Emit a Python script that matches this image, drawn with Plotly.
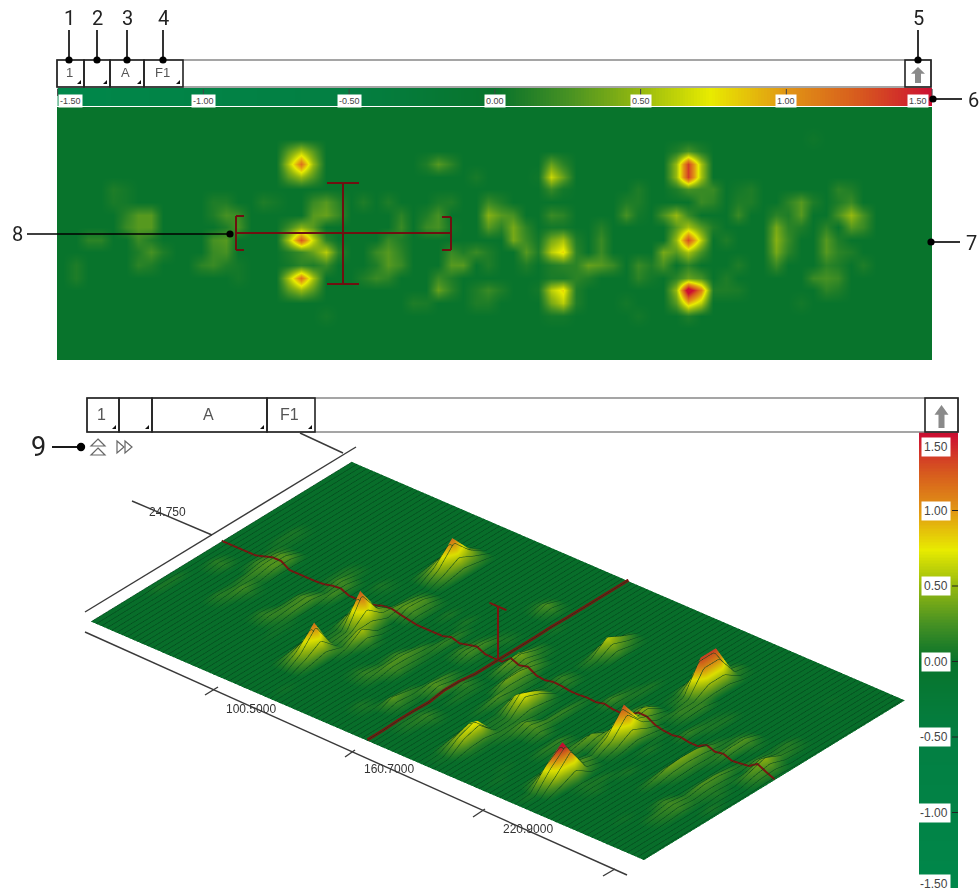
import numpy as np
import plotly.graph_objects as go

# ---------- data ----------
N_COLS, N_ROWS = 70, 20
row_00 = {}
row_01 = {}
row_02 = {60: .03}
row_03 = {18: .3, 19: .55, 20: .3, 49: .1, 50: .25, 51: .1}
row_04 = {18: .55, 19: 1.15, 20: .5, 29: .1, 30: .3, 31: .15, 39: .35, 40: .15, 49: .5, 50: 1.35, 51: .55}
row_05 = {18: .3, 19: .5, 20: .28, 33: .07, 38: .03, 39: .65, 40: .35, 49: .5, 50: 1.35, 51: .55}
row_06 = {4: .1, 5: .05, 39: .2, 40: .05, 46: .1, 49: .1, 50: .25, 51: .2, 52: .2, 54: .05, 55: .1, 62: .15, 63: .1}
row_07 = {4: .08, 5: .05, 12: .1, 13: .1, 16: .1, 17: .05, 20: .2, 21: .3, 22: .15, 24: .1, 26: .1, 30: .08, 31: .1,
          34: .2, 35: .1, 45: .1, 46: .1, 51: .2, 52: .15, 54: .1, 55: .1, 58: .15, 59: .3, 60: .1, 62: .1, 63: .2}
row_08 = {5: .15, 6: .3, 7: .3, 12: .1, 13: .25, 14: .2, 20: .3, 21: .35, 22: .2, 27: .15, 29: .1, 30: .25, 34: .45,
          35: .3, 36: .25, 39: .2, 40: .15, 45: .25, 46: .05, 48: .25, 49: .5, 50: .2, 54: .2, 57: .15, 58: .1, 59: .3,
          62: .25, 63: .5, 64: .25}
row_09 = {5: .2, 6: .3, 7: .3, 13: .1, 14: .25, 18: .2, 19: .45, 20: .3, 27: .2, 29: .2, 30: .25, 31: .05, 34: .3,
          35: .15, 36: .4, 37: .15, 39: .05, 40: .05, 43: .12, 49: .3, 50: .55, 51: .3, 52: .1, 57: .4, 58: .15, 59: .1,
          61: .15, 63: .3, 64: .2}
row_10 = {2: .15, 3: .15, 6: .2, 7: .1, 12: .25, 13: .3, 18: .55, 19: 1.25, 20: .65, 21: .15, 26: .2, 27: .1, 36: .4,
          37: .2, 38: .05, 39: .4, 40: .55, 41: .1, 43: .2, 49: .5, 50: 1.3, 51: .6, 53: .1, 57: .45, 58: .2, 61: .3, 62: .1}
row_11 = {6: .1, 7: .25, 8: .1, 12: .2, 13: .25, 18: .1, 19: .2, 20: .35, 21: .6, 22: .15, 25: .2, 26: .3, 27: .15,
          31: .2, 32: .1, 33: .2, 34: .1, 37: .3, 38: .1, 39: .6, 40: .8, 41: .15, 43: .2, 48: .4, 49: .3, 50: .55, 51: .25,
          57: .4, 58: .15, 61: .3, 62: .15, 63: .1}
row_12 = {1: .1, 6: .15, 7: .1, 11: .15, 12: .2, 13: .1, 14: .05, 18: .05, 19: .15, 20: .1, 21: .2, 25: .1, 26: .3,
          27: .2, 31: .3, 32: .3, 34: .1, 37: .1, 39: .1, 40: .15, 41: .15, 42: .35, 43: .3, 44: .2, 46: .2, 47: .1,
          48: .25, 50: .15, 54: .1, 57: .2, 61: .15, 62: .1, 64: .1}
row_13 = {1: .1, 14: .05, 18: .55, 19: 1.15, 20: .55, 24: .1, 25: .2, 26: .15, 30: .2, 31: .1, 39: .08, 40: .08,
          41: .15, 42: .1, 46: .15, 47: .05, 49: .15, 50: .35, 51: .25, 53: .1, 60: .2, 61: .25, 62: .2}
row_14 = {18: .3, 19: .5, 20: .3, 30: .35, 31: .15, 33: .1, 34: .2, 35: .1, 38: .05, 39: .6, 40: .8, 41: .1, 49: .5,
          50: 1.7, 51: 1.1, 52: .1, 53: .1, 54: .08, 61: .15, 62: .1}
row_15 = {28: .1, 29: .08, 33: .1, 34: .1, 39: .4, 40: .6, 41: .1, 45: .05, 49: .3, 50: .9, 51: .6, 59: .05}
row_16 = {21: .05, 39: .05, 40: .05, 46: .05, 50: .1}
row_17 = {}
row_18 = {}
row_19 = {}
heat_rows = [row_00, row_01, row_02, row_03, row_04, row_05, row_06, row_07, row_08, row_09,
             row_10, row_11, row_12, row_13, row_14, row_15, row_16, row_17, row_18, row_19]

scale_ticks = [-1.5, -1.0, -0.5, 0.0, 0.5, 1.0, 1.5]
scale_labels = ["-1.50", "-1.00", "-0.50", "0.00", "0.50", "1.00", "1.50"]
axis_labels = ["24.750", "100.5000", "160.7000", "220.9000", "161.550"]
callouts = ["1", "2", "3", "4", "5", "6", "7", "8", "9"]
cross_col, cross_flip, cross_top = 32.5, 10.5, 2.1

colorscale_stops = [(-1.5, "rgb(0,135,74)"), (-0.5, "rgb(3,127,66)"), (0.0, "rgb(8,116,44)"), (0.1, "rgb(30,125,40)"),
                    (0.25, "rgb(70,145,35)"), (0.5, "rgb(150,185,15)"), (0.74, "rgb(232,235,0)"),
                    (1.0, "rgb(225,150,20)"), (1.25, "rgb(215,90,30)"), (1.5, "rgb(205,15,50)")]
colorscale = [[(v + 1.5) / 3, c] for v, c in colorscale_stops]

Z = np.zeros((N_ROWS, N_COLS))
for j, row in enumerate(heat_rows):
    for i, v in row.items():
        Z[j, i] = v
HEIGHT = np.minimum(Z, 1.25) ** 1.3   # relief drawn by the 3-D view
cols = np.arange(N_COLS)
rows = np.arange(N_ROWS)
levels = np.arange(-150, 151) / 100

W, H = 979, 888
fx = lambda x: x / W
fy = lambda y: 1 - y / H
DARK = "#6e1010"
NUM_FONT = "Roboto"
shapes, ann = [], []


def line(x0, y0, x1, y1, color="#000", w=1.5, layer="above"):
    shapes.append(dict(type="line", xref="paper", yref="paper", x0=fx(x0), y0=fy(y0), x1=fx(x1), y1=fy(y1),
                       line=dict(color=color, width=w), layer=layer))


def rect(x0, y0, x1, y1, color="#000", w=1.5, fill="rgba(0,0,0,0)", layer="above"):
    shapes.append(dict(type="rect", xref="paper", yref="paper", x0=fx(x0), y0=fy(y0), x1=fx(x1), y1=fy(y1),
                       line=dict(color=color, width=w), fillcolor=fill, layer=layer))


def dot(cx, cy, r=3.6):
    shapes.append(dict(type="circle", xref="paper", yref="paper", x0=fx(cx - r), y0=fy(cy - r), x1=fx(cx + r), y1=fy(cy + r),
                       line=dict(color="#000", width=0), fillcolor="#000", layer="above"))


def poly(pts, fill="#000", color=None, w=0):
    d = "M" + " L".join(f"{fx(x):.5f},{fy(y):.5f}" for x, y in pts) + " Z"
    shapes.append(dict(type="path", xref="paper", yref="paper", path=d, fillcolor=fill,
                       line=dict(color=color or fill, width=w), layer="above"))


def text(x, y, s, size=12, color="#333", font="Liberation Sans", xa="center", ya="middle", bg=None, pad=0):
    ann.append(dict(xref="paper", yref="paper", x=fx(x), y=fy(y), text=s, showarrow=False, xanchor=xa, yanchor=ya,
                    font=dict(size=size, color=color, family=font), bgcolor=bg, borderpad=pad))


def toolbar(x0, x1, y0, y1, buttons, ax0, ax1, size):
    rect(x0, y0, ax1, y1, color="#888", w=1.5, fill="#fff")
    for (a, b, t) in buttons:
        rect(a, y0, b, y1, color="#222", w=1.6)
        if t:
            text((a + b) / 2 - 1.5, (y0 + y1) / 2 - 1, t, size=size, color="#555")
        poly([(b - 3, y1 - 7), (b - 3, y1 - 3), (b - 7, y1 - 3)], fill="#111")
    rect(ax0, y0, ax1, y1, color="#222", w=1.6)
    c = (ax0 + ax1) / 2
    t, b = y0 + 7, y1 - 4
    m = t + (b - t) * .42
    poly([(c, t), (c + 7, m), (c + 3, m), (c + 3, b), (c - 3, b), (c - 3, m), (c - 7, m)], fill="#8a8a8a")


# toolbars
toolbar(57, 905, 60, 87, [(57, 84, "1"), (84, 110, ""), (110, 144, "A"), (144, 183, "F1")], 905, 931, 13)
toolbar(87, 925, 398, 432, [(87, 119, "1"), (119, 152, ""), (152, 267, "A"), (267, 315, "F1")], 925, 958, 16)

# callouts
for x, n in zip([69, 97, 127, 163, 918], callouts[:5]):
    line(x, 30, x, 60, w=1.6)
    dot(x, 60)
    text(x, 18, n, size=20, color="#222", font=NUM_FONT)
line(932, 99, 962, 99, w=1.6); dot(933, 99); text(973, 100, "6", size=20, color="#222", font=NUM_FONT)
line(932, 242, 960, 242, w=1.6); dot(931, 242); text(971, 243, "7", size=20, color="#222", font=NUM_FONT)
line(27, 234, 230, 234, w=1.6); dot(230, 234); text(17, 234, "8", size=20, color="#222", font=NUM_FONT)
line(52, 447, 80, 447, w=1.8); dot(81, 447, 4.2); text(38, 447, "9", size=27, color="#222", font=NUM_FONT)

# little icons beside 9
for yy in (439, 448):
    poly([(98, yy), (105, yy + 7), (91, yy + 7)], fill="rgba(0,0,0,0)", color="#666", w=1.2)
for xx in (117, 125):
    poly([(xx, 441), (xx + 7, 447), (xx, 453)], fill="rgba(0,0,0,0)", color="#666", w=1.2)

# cross on heat map
line(236, 233, 451, 233, DARK, 2); line(236, 216, 236, 250, DARK, 2); line(236, 216, 244, 216, DARK, 2)
line(236, 250, 244, 250, DARK, 2); line(451, 217, 451, 250, DARK, 2); line(442, 217, 451, 217, DARK, 2)
line(442, 250, 451, 250, DARK, 2); line(343, 183, 343, 284, DARK, 2); line(327, 183, 359, 183, DARK, 2)
line(327, 284, 359, 284, DARK, 2)

# 3-D frame
FR = "#3a3a3a"
line(85, 612, 356, 447, FR, 1.4, "below"); line(85, 632, 627, 875, FR, 1.4, "below")
line(300, 433, 343, 453, FR, 1.4, "below"); line(132, 501, 212, 535, FR, 1.4, "below")
line(205, 695, 218, 687, FR, 1.4, "below"); line(345, 757, 355, 750, FR, 1.4, "below")
line(473, 817, 485, 809, FR, 1.4, "below"); line(603, 876, 615, 869, FR, 1.4, "below")
text(167, 512, axis_labels[0], size=12, color="#333")
text(251, 709, axis_labels[1], size=12, color="#333")
text(389, 769, axis_labels[2], size=12, color="#333")
text(528, 829, axis_labels[3], size=12, color="#333")

# colour-bar ticks and labels
BAR_X = lambda v: 57.6 + (v + 1.5) * 291.5
BAR_Y = lambda v: 888 - (v + 1.5) * 151
for v, s in zip(scale_ticks, scale_labels):
    bx = BAR_X(v)
    line(bx, 89, bx, 96, "#444", 1)
    cx = min(max(bx, 70), 918)
    text(cx, 101, s, size=9, color="#444", bg="#fff", pad=1)
    by = BAR_Y(v)
    if -1.5 < v < 1.5:
        line(952, by, 958, by, "#222", 1)
    ty = min(max(by, 447), 884)
    text(951, ty, s, size=12, color="#444", xa="right", bg="#fff", pad=2)
rect(919, 432, 958, 436, color="#c81030", w=0, fill="#c81030", layer="below")

fig = go.Figure()
# flat heat map
fig.add_trace(go.Heatmap(z=Z, x=cols, y=rows, colorscale=colorscale, zmin=-1.5, zmax=1.5, zsmooth="best",
                         showscale=False, xaxis="x", yaxis="y", hoverinfo="skip"))
# horizontal colour bar
fig.add_trace(go.Heatmap(z=[levels], x=levels, y=[0], colorscale=colorscale, zmin=-1.5, zmax=1.5, showscale=False,
                         xaxis="x2", yaxis="y2", hoverinfo="skip"))
# vertical colour bar
fig.add_trace(go.Heatmap(z=[[v] for v in levels], x=[0], y=levels, colorscale=colorscale, zmin=-1.5, zmax=1.5,
                         showscale=False, xaxis="x3", yaxis="y3", hoverinfo="skip"))
# label hidden behind the toolbar
fig.add_trace(go.Scatter(x=[300], y=[427], mode="text", text=[axis_labels[4]], textfont=dict(size=12, color="#333", family="Liberation Sans"),
                         xaxis="x4", yaxis="y4", hoverinfo="skip", showlegend=False))
# 3-D surface
flip = N_ROWS - 1 - rows
fig.add_trace(go.Surface(z=HEIGHT, surfacecolor=Z, x=cols, y=flip, colorscale=colorscale, cmin=-1.5, cmax=1.5, showscale=False,
                         scene="scene", hoverinfo="skip",
                         lighting=dict(ambient=0.95, diffuse=0.35, specular=0.0, roughness=1, fresnel=0),
                         lightposition=dict(x=-2000, y=-500, z=2000),
                         contours=dict(x=dict(show=True, start=0, end=69, size=0.6, color="rgb(4,66,28)", width=1))))
prof_z = (HEIGHT[8] + HEIGHT[9]) / 2 + 0.04
cross_y = flip[:18]
cross_z = (HEIGHT[:18, 32] + HEIGHT[:18, 33]) / 2 + 0.04
fig.add_trace(go.Scatter3d(x=cols, y=[cross_flip] * N_COLS, z=prof_z, mode="lines", line=dict(color="#7a1510", width=4),
                           scene="scene", hoverinfo="skip", showlegend=False))
fig.add_trace(go.Scatter3d(x=[cross_col] * len(cross_y), y=cross_y, z=cross_z, mode="lines",
                           line=dict(color="#7a1510", width=6), scene="scene", hoverinfo="skip", showlegend=False))
fig.add_trace(go.Scatter3d(x=[cross_col, cross_col], y=[cross_flip, cross_flip], z=[0, cross_top], mode="lines",
                           line=dict(color="#7a1510", width=4), scene="scene", hoverinfo="skip", showlegend=False))
fig.add_trace(go.Scatter3d(x=[cross_col - 1, cross_col + 1], y=[cross_flip, cross_flip], z=[cross_top, cross_top], mode="lines",
                           line=dict(color="#7a1510", width=4), scene="scene", hoverinfo="skip", showlegend=False))

hidden = dict(visible=False, fixedrange=True)
blank3 = dict(visible=False, showgrid=False, zeroline=False, showbackground=False, showticklabels=False, title="")
E = 2
fig.update_layout(
    width=W, height=H, margin=dict(l=0, r=0, t=0, b=0, pad=0), paper_bgcolor="#fff", plot_bgcolor="rgba(0,0,0,0)",
    showlegend=False, shapes=shapes, annotations=ann,
    xaxis=dict(hidden, domain=[fx(57), fx(932)], range=[-.5, N_COLS - .5]),
    yaxis=dict(hidden, domain=[fy(360), fy(107)], range=[N_ROWS - .5, -.5]),
    xaxis2=dict(hidden, domain=[fx(57.6), fx(932)], range=[-1.5, 1.5], anchor="y2"),
    yaxis2=dict(hidden, domain=[fy(106), fy(88)], range=[-.5, .5], anchor="x2"),
    xaxis3=dict(hidden, domain=[fx(919), fx(958)], range=[-.5, .5], anchor="y3"),
    yaxis3=dict(hidden, domain=[fy(888), fy(435)], range=[-1.5, 1.5], anchor="x3"),
    xaxis4=dict(hidden, domain=[0, 1], range=[0, W], anchor="y4"),
    yaxis4=dict(hidden, domain=[0, 1], range=[H, 0], anchor="x4"),
    scene=dict(domain=dict(x=[fx(30), fx(966)], y=[fy(888), fy(380)]),
               xaxis=dict(blank3, range=[0, 65]), yaxis=dict(blank3, range=[2, 19]), zaxis=dict(blank3, range=[-.345, 2.425]),
               aspectmode="manual", aspectratio=dict(x=2.842, y=1.598, z=.33),
               camera=dict(projection=dict(type="orthographic"), up=dict(x=0, y=0, z=1), center=dict(x=0, y=0, z=0),
                           eye=dict(x=.5515 * E, y=-.657 * E, z=.5137 * E)),
               bgcolor="rgba(0,0,0,0)"),
)
fig.write_html("out.html", config=dict(displayModeBar=False, staticPlot=False),
               post_script="document.body.style.margin='0';document.body.style.overflow='hidden';")
